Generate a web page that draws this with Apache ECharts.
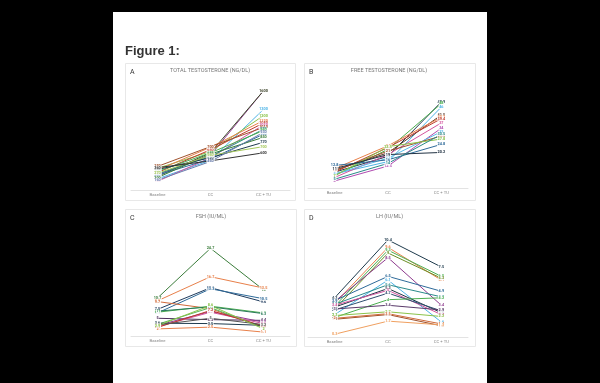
<!DOCTYPE html>
<html><head><meta charset="utf-8">
<script src="https://cdn.jsdelivr.net/npm/echarts@6/dist/echarts.min.js"></script>
<style>html,body{margin:0;padding:0;background:#000;}#c{width:600px;height:383px;}</style>
</head><body><div id="c"></div>
<script>
const categories = ['Baseline', 'CC', 'CC + TU'];
const panelLetters = ['A', 'B', 'C', 'D'];
const panelTitles = ['TOTAL TESTOSTERONE (NG/DL)', 'FREE TESTOSTERONE (NG/DL)', 'FSH (IU/ML)', 'LH (IU/ML)'];

// [Baseline, CC, CC + TU] per patient
const totalTestosterone = [
  [250, 560, 1600], [220, 600, 1600], [180, 480, 1300], [350, 620, 1200], [320, 690, 1120],
  [280, 650, 1080], [140, 520, 1050], [380, 700, 1010], [260, 540, 980], [300, 600, 960],
  [240, 500, 900], [200, 580, 850], [330, 520, 770], [270, 560, 700], [360, 470, 600], [160, 460, 930]
];
const freeTestosterone = [
  [9.0, 18.0, 48.9], [7.0, 22.0, 48.0], [8.0, 15.0, 46.0], [10.0, 20.0, 41.5], [11.0, 24.0, 40.3],
  [9.0, 23.0, 39.4], [6.0, 19.0, 37.0], [4.0, 12.5, 34.0], [8.0, 17.0, 32.0], [10.0, 21.0, 29.5],
  [7.0, 23.5, 27.8], [12.8, 16.0, 24.8], [11.0, 19.0, 20.2], [5.0, 14.0, 30.5]
];
const fsh = [
  [10.7, 24.7, 13.0], [9.9, 16.7, 13.5], [7.5, 13.6, 9.6], [6.5, 13.3, 10.5], [9.7, 7.7, 2.5],
  [6.7, 8.4, 6.5], [7.0, 8.2, 6.3], [5.0, 4.6, 4.4], [3.0, 6.9, 3.9], [2.6, 6.7, 3.5],
  [3.3, 8.0, 2.4], [3.6, 3.5, 3.0], [2.4, 7.2, 2.8], [2.0, 2.5, 1.1], [3.1, 5.0, 3.2], [2.9, 8.6, 2.0]
];
const lh = [
  [4.2, 10.4, 7.5], [3.6, 9.6, 6.1], [3.3, 9.3, 6.5], [3.0, 9.0, 6.3], [3.8, 8.5, 3.4],
  [3.9, 6.5, 4.9], [2.4, 6.1, 1.6], [3.5, 5.6, 4.3], [3.2, 5.2, 2.6], [3.4, 5.0, 2.4],
  [2.9, 4.7, 2.8], [2.1, 4.0, 4.2], [3.0, 3.4, 2.9], [2.3, 2.7, 2.2], [1.9, 2.4, 1.2],
  [2.0, 2.5, 1.4], [0.3, 1.7, 1.3]
];
const panelData = [totalTestosterone, freeTestosterone, fsh, lh];
const yMax = [1800, 60, 30, 12];

const colorsA = ['#8e3b8e', '#3d4a2a', '#4db3e6', '#8bc34a', '#e8804a', '#c0392b', '#d4559f', '#a0522d',
  '#2a8a8a', '#4caf50', '#2f6b9a', '#3b7d3b', '#1f3b4d', '#a5c85a', '#333333', '#6a7fb0'];
const colorsB = ['#1f3b4d', '#4caf50', '#4db3e6', '#5a3a2a', '#e8804a', '#c0392b', '#d4559f', '#b04ab0',
  '#5bbbe8', '#a0522d', '#8bc34a', '#2f6b9a', '#223344', '#2a8a8a'];
const colorsC = ['#3b7d3b', '#e8804a', '#1f3b5d', '#2f6b9a', '#d06a3a', '#4caf50', '#2a7a5a', '#4a2a5a',
  '#8e3b8e', '#d4559f', '#5cb85c', '#1f3b4d', '#c0392b', '#e8804a', '#555555', '#8bc34a'];
const colorsD = ['#1f3b4d', '#e8804a', '#4caf50', '#6b8e23', '#8e3b8e', '#2f6b9a', '#4db3e6', '#2a8a8a',
  '#223344', '#d4559f', '#2f4f6f', '#4caf50', '#5a3a6a', '#8bc34a', '#a0522d', '#d06a3a', '#f0a060'];
const panelColors = [colorsA, colorsB, colorsC, colorsD];

const grids = [
  {left: 131, top: 78.4, width: 159, height: 111.6},
  {left: 308, top: 82.4, width: 160, height: 105.6},
  {left: 131, top: 229.5, width: 159, height: 106.5},
  {left: 308, top: 225, width: 160, height: 112}
];
const panelBoxes = [[125, 63, 170, 137], [304, 63, 171, 137], [125, 209, 171, 137], [304, 209, 171, 137]];
const letterPos = [[130, 72], [309, 72], [130, 218], [309, 218]];
const titlePos = [[210, 70.5], [389, 70.5], [211, 216.7], [389.5, 216.7]];

const graphic = [
  {type: 'rect', shape: {x: 113, y: 12, width: 374, height: 380}, style: {fill: '#fff'}, z: -10},
  {type: 'text', x: 125, y: 51, style: {text: 'Figure 1:', font: 'bold 13px "Liberation Sans", Arial, sans-serif', fill: '#333', textVerticalAlign: 'middle'}}
];
panelBoxes.forEach((b, i) => {
  graphic.push({type: 'rect', shape: {x: b[0] + 0.5, y: b[1] + 0.5, width: b[2], height: b[3]}, style: {fill: 'none', stroke: '#e8e8e8', lineWidth: 1}, z: -5});
  graphic.push({type: 'text', x: letterPos[i][0], y: letterPos[i][1], style: {text: panelLetters[i], font: '7px Roboto, sans-serif', fill: '#333', textVerticalAlign: 'middle'}});
  graphic.push({type: 'text', x: titlePos[i][0], y: titlePos[i][1], style: {text: panelTitles[i], font: '5.5px Roboto, sans-serif', fill: '#777', textAlign: 'center', textVerticalAlign: 'middle'}});
});

const series = [];
panelData.forEach((rows, p) => {
  rows.forEach((vals, k) => {
    const col = panelColors[p][k % panelColors[p].length];
    series.push({
      type: 'line', xAxisIndex: p, yAxisIndex: p, data: vals,
      symbol: 'circle', symbolSize: 1, showSymbol: true,
      lineStyle: {width: 1, color: col}, itemStyle: {color: col},
      label: {show: true, position: 'inside', fontSize: 3.8, fontWeight: 'bold', color: col,
        backgroundColor: 'rgba(255,255,255,0.85)', padding: [0, 0.5], fontFamily: 'Roboto, sans-serif'},
      animation: false, silent: true
    });
  });
});

const chart = echarts.init(document.getElementById('c'), null, {renderer: 'canvas'});
chart.setOption({
  backgroundColor: '#000',
  animation: false,
  graphic: graphic,
  grid: grids,
  xAxis: grids.map((g, i) => ({
    gridIndex: i, type: 'category', data: categories, boundaryGap: true,
    axisLine: {lineStyle: {color: '#e3e3e3', width: 1}}, axisTick: {show: false},
    axisLabel: {fontSize: 4.2, color: '#888', margin: 3, fontFamily: 'Roboto, sans-serif'}
  })),
  yAxis: grids.map((g, i) => ({
    gridIndex: i, type: 'value', min: 0, max: yMax[i], show: false, splitLine: {show: false}
  })),
  series: series
});
</script></body></html>
